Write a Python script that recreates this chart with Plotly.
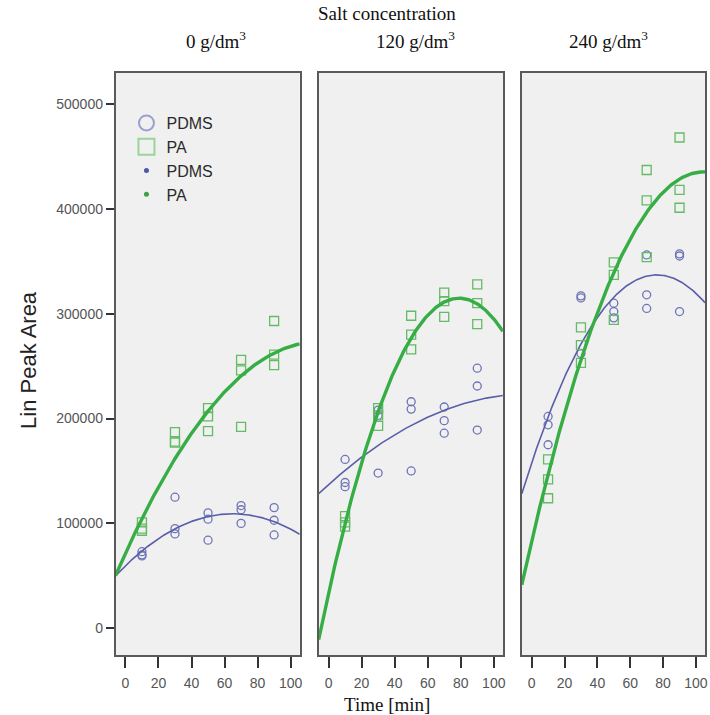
import numpy as np
import plotly.graph_objects as go

# ---------------- data ----------------
times = [10, 30, 50, 70, 90]
panels = ["0 g/dm<sup>3</sup>", "120 g/dm<sup>3</sup>", "240 g/dm<sup>3</sup>"]

pdms_0 = [[73000, 69000, 70000], [125000, 95000, 90000], [110000, 104000, 84000],
          [117000, 113000, 100000], [115000, 103000, 89000]]
pa_0 = [[101000, 95000, 93000], [187000, 177000, 178000], [210000, 202000, 188000],
        [256000, 246000, 192000], [293000, 261000, 251000]]

pdms_120 = [[161000, 139000, 135000], [148000, 203000, 208000], [216000, 209000, 150000],
            [211000, 198000, 186000], [248000, 231000, 189000]]
pa_120 = [[107000, 101000, 97000], [210000, 203000, 193000], [298000, 280000, 266000],
          [320000, 312000, 297000], [328000, 310000, 290000]]

pdms_240 = [[202000, 194000, 175000], [317000, 315000, 262000], [310000, 302000, 296000],
            [356000, 318000, 305000], [357000, 355000, 302000]]
pa_240 = [[161000, 142000, 124000], [287000, 270000, 253000], [349000, 337000, 294000],
          [437000, 408000, 354000], [468000, 418000, 401000]]

pdms_sets = [pdms_0, pdms_120, pdms_240]
pa_sets = [pa_0, pa_120, pa_240]

x_ticks = [0, 20, 40, 60, 80, 100]
y_ticks = [0, 100000, 200000, 300000, 400000, 500000]

# ---------------- style ----------------
X_RANGE = [-6, 105.5]
Y_RANGE = [-25500, 529500]
W, H = 710, 715
PANEL_PX = [(116, 301), (320, 505), (524, 708)]
TOP_PX, BOT_PX = 73, 655

C_PDMS_MK = "#6e74b8"
C_PA_MK = "#63bb63"
C_PDMS_LN = "#5a5ea8"
C_PA_LN = "#37ad45"
SANS = "Liberation Sans, Arial"
SERIF = "Liberation Serif, Times New Roman"

fig = go.Figure()


def flat(groups):
    xs, ys = [], []
    for t, vals in zip(times, groups):
        for v in vals:
            xs.append(t)
            ys.append(v)
    return np.array(xs, float), np.array(ys, float)


for i in range(3):
    xa = "x" if i == 0 else f"x{i+1}"
    ya = "y" if i == 0 else f"y{i+1}"
    for groups, col_mk, col_ln, sym, size, lw in [
        (pdms_sets[i], C_PDMS_MK, C_PDMS_LN, "circle-open", 8, 1.6),
        (pa_sets[i], C_PA_MK, C_PA_LN, "square-open", 9, 3.4),
    ]:
        xs, ys = flat(groups)
        fig.add_trace(go.Scatter(x=xs, y=ys, mode="markers", xaxis=xa, yaxis=ya,
                                 marker=dict(symbol=sym, size=size, color=col_mk,
                                             line=dict(width=1.3, color=col_mk)),
                                 showlegend=False, hoverinfo="skip"))
        coef = np.polyfit(xs, ys, 2)
        xf = np.linspace(X_RANGE[0], X_RANGE[1], 200)
        fig.add_trace(go.Scatter(x=xf, y=np.polyval(coef, xf), mode="lines", xaxis=xa, yaxis=ya,
                                 line=dict(color=col_ln, width=lw),
                                 showlegend=False, hoverinfo="skip"))

# legend entries
leg = [("PDMS", "circle-open", 15, "#9a9fd0", 2),
       ("PA", "square-open", 16, "#9ad49a", 2),
       ("PDMS", "circle", 5, "#4d58a6", 0),
       ("PA", "circle", 5, "#3f9e46", 0)]
for k, (name, sym, size, col, lw) in enumerate(leg):
    fig.add_trace(go.Scatter(x=[None], y=[None], mode="markers", name=name,
                             legendgroup=f"g{k}",
                             marker=dict(symbol=sym, size=size, color=col,
                                         line=dict(width=lw, color=col))))

layout = dict(width=W, height=H, margin=dict(l=0, r=0, t=0, b=0),
              paper_bgcolor="white", plot_bgcolor="#f0f0f0",
              showlegend=True,
              legend=dict(x=127 / W, y=1 - 106 / H, xanchor="left", yanchor="top",
                          bgcolor="rgba(0,0,0,0)", font=dict(family=SANS, size=16, color="#2a2a2a"),
                          itemsizing="trace", tracegroupgap=0),
              font=dict(family=SANS))

for i in range(3):
    l, r = PANEL_PX[i]
    xk = "xaxis" if i == 0 else f"xaxis{i+1}"
    yk = "yaxis" if i == 0 else f"yaxis{i+1}"
    layout[xk] = dict(domain=[l / W, r / W], range=X_RANGE, tickvals=x_ticks,
                      ticks="outside", ticklen=11, tickwidth=1.5, tickcolor="#333",
                      ticklabelstandoff=3,
                      tickfont=dict(family=SANS, size=14, color="#555"),
                      showline=True, mirror=True, linecolor="#5a5a5a", linewidth=1.5,
                      showgrid=False, zeroline=False, anchor="y" if i == 0 else f"y{i+1}")
    ydict = dict(domain=[1 - BOT_PX / H, 1 - TOP_PX / H], range=Y_RANGE, tickvals=y_ticks,
                 showline=True, mirror=True, linecolor="#5a5a5a", linewidth=1.5,
                 showgrid=False, zeroline=False, anchor="x" if i == 0 else f"x{i+1}")
    if i == 0:
        ydict.update(ticks="outside", ticklen=8, tickwidth=1.5, tickcolor="#333", tickformat="d",
                     tickfont=dict(family=SANS, size=14, color="#555"))
    else:
        ydict.update(showticklabels=False, ticks="")
    layout[yk] = ydict

fig.update_layout(**layout)

serif = dict(family=SERIF, size=19, color="#111")
ann = [dict(text="Salt concentration", x=389 / W, y=1 - 13 / H, font=serif)]
for cx, t in zip([217, 417, 611], panels):
    ann.append(dict(text=t, x=cx / W, y=1 - 40 / H, font=serif))
ann.append(dict(text="Time [min]", x=389 / W, y=1 - 704 / H, font=serif))
ann.append(dict(text="Lin Peak Area", x=28 / W, y=1 - 360 / H, textangle=-90,
                font=dict(family=SANS, size=22, color="#222")))
for a in ann:
    a.update(xref="paper", yref="paper", showarrow=False, xanchor="center", yanchor="middle")
fig.update_layout(annotations=ann)

fig.write_html("out.html")
